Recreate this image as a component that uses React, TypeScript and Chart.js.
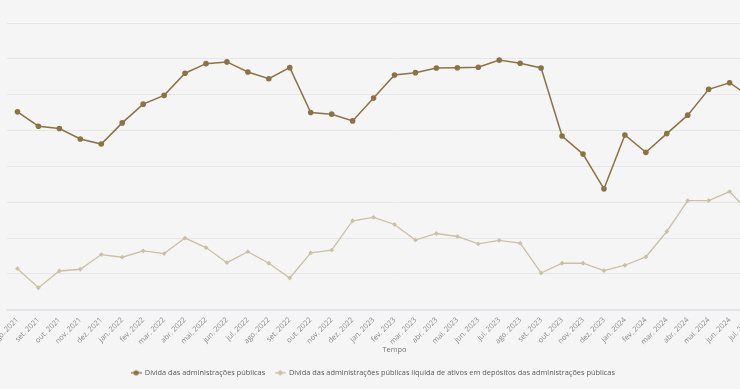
import React, { useEffect, useRef } from "react";
import { Chart, registerables } from "chart.js";

Chart.register(...registerables);

const months = [
  "ago. 2021", "set. 2021", "out. 2021", "nov. 2021", "dez. 2021",
  "jan. 2022", "fev. 2022", "mar. 2022", "abr. 2022", "mai. 2022", "jun. 2022", "jul. 2022",
  "ago. 2022", "set. 2022", "out. 2022", "nov. 2022", "dez. 2022",
  "jan. 2023", "fev. 2023", "mar. 2023", "abr. 2023", "mai. 2023", "jun. 2023", "jul. 2023",
  "ago. 2023", "set. 2023", "out. 2023", "nov. 2023", "dez. 2023",
  "jan. 2024", "fev. 2024", "mar. 2024", "abr. 2024", "mai. 2024", "jun. 2024", "jul. 2024",
  "ago. 2024",
];

const debtLabel = "Dívida das administrações públicas";
const netLabel =
  "Dívida das administrações públicas líquida de ativos em depósitos das administrações públicas";

const debt = [
  272600, 270600, 270270, 268810, 268110, 271060, 273680, 274900, 277990, 279330, 279570, 278170,
  277230, 278770, 272520, 272280, 271340, 274520, 277750, 278070, 278730, 278750, 278830, 279820,
  279390, 278730, 269240, 266710, 261860, 269380, 266950, 269570, 272140, 275740, 276670, 274660,
];

const net = [
  250720, 248060, 250400, 250640, 252690, 252320, 253200, 252830, 254990, 253670, 251560, 253090,
  251480, 249420, 252920, 253300, 257410, 257880, 256890, 254710, 255630, 255210, 254190, 254680,
  254280, 250120, 251480, 251480, 250440, 251200, 252360, 255910, 260220, 260220, 261480, 258390,
];

const yMin = 245000;
const yMax = 285000;
const yStep = 5000;

const DEBT_COLOR = "#8a7444";
const NET_COLOR = "#c9c0a7";
const FONT = "'Open Sans', sans-serif";
const FS = 7.4;

function makeMarker(color: string, kind: "circle" | "diamond"): HTMLCanvasElement {
  const c = document.createElement("canvas");
  c.width = 11;
  c.height = 8;
  const ctx = c.getContext("2d")!;
  ctx.strokeStyle = color;
  ctx.fillStyle = color;
  ctx.lineWidth = 1.3;
  ctx.beginPath();
  ctx.moveTo(0, 4);
  ctx.lineTo(11, 4);
  ctx.stroke();
  ctx.beginPath();
  if (kind === "circle") {
    ctx.arc(5.5, 4, 2.6, 0, Math.PI * 2);
  } else {
    ctx.moveTo(5.5, 1);
    ctx.lineTo(8.5, 4);
    ctx.lineTo(5.5, 7);
    ctx.lineTo(2.5, 4);
    ctx.closePath();
  }
  ctx.fill();
  return c;
}

export default function App() {
  const ref = useRef<HTMLCanvasElement | null>(null);

  useEffect(() => {
    if (!ref.current) return;
    const markers = [makeMarker(DEBT_COLOR, "circle"), makeMarker(NET_COLOR, "diamond")];
    const chart = new Chart(ref.current, {
      type: "line",
      data: {
        labels: months,
        datasets: [
          {
            label: debtLabel,
            data: debt,
            borderColor: DEBT_COLOR,
            backgroundColor: DEBT_COLOR,
            borderWidth: 1.5,
            pointRadius: 2.8,
            pointStyle: "circle",
            pointBorderWidth: 0,
            tension: 0,
          },
          {
            label: netLabel,
            data: net,
            borderColor: NET_COLOR,
            backgroundColor: NET_COLOR,
            borderWidth: 1.3,
            pointRadius: 2.4,
            pointStyle: "rectRot",
            pointBorderWidth: 0,
            tension: 0,
          },
        ],
      },
      options: {
        animation: false,
        responsive: false,
        devicePixelRatio: 1,
        layout: { padding: { top: 23, right: 8, left: 0, bottom: 2.5 } },
        scales: {
          x: {
            type: "category",
            offset: true,
            grid: { display: false, drawTicks: false },
            border: { display: true, color: "#e2e6ea", width: 2 },
            ticks: {
              autoSkip: false,
              maxRotation: 45,
              minRotation: 45,
              padding: 6,
              color: "#8a8a8a",
              font: { family: FONT, size: FS },
            },
            title: {
              display: true,
              text: "Tempo",
              color: "#777777",
              font: { family: FONT, size: FS },
              padding: { top: 3, bottom: 5.2 },
            },
            afterFit: (scale: any) => {
              scale.height = scale.height - 10.5;
            },
          },
          y: {
            min: yMin,
            max: yMax,
            grid: { color: "#e6e6e6", lineWidth: 1, drawTicks: false },
            border: { display: false },
            ticks: { display: false, stepSize: yStep },
            afterFit: (scale: any) => {
              scale.width = 43;
            },
          },
        },
        plugins: {
          legend: {
            position: "bottom",
            labels: {
              usePointStyle: true,
              pointStyleWidth: 10,
              boxHeight: 8,
              padding: 10,
              color: "#5a5a5a",
              font: { family: FONT, size: FS },
              generateLabels: (c: any) =>
                (Chart.defaults.plugins.legend.labels.generateLabels as any)(c).map(
                  (l: any, i: number) => ({ ...l, pointStyle: markers[i] })
                ),
            },
          },
          tooltip: { enabled: false },
        },
      },
    });
    return () => chart.destroy();
  }, []);

  return (
    <div
      style={{
        position: "fixed",
        left: 0,
        top: 0,
        width: 740,
        height: 389,
        overflow: "hidden",
        background: "#f5f5f5",
      }}
    >
      <div style={{ position: "absolute", left: -36, top: 0, width: 826, height: 389 }}>
        <canvas ref={ref} width={826} height={389} style={{ display: "block" }} />
      </div>
    </div>
  );
}
